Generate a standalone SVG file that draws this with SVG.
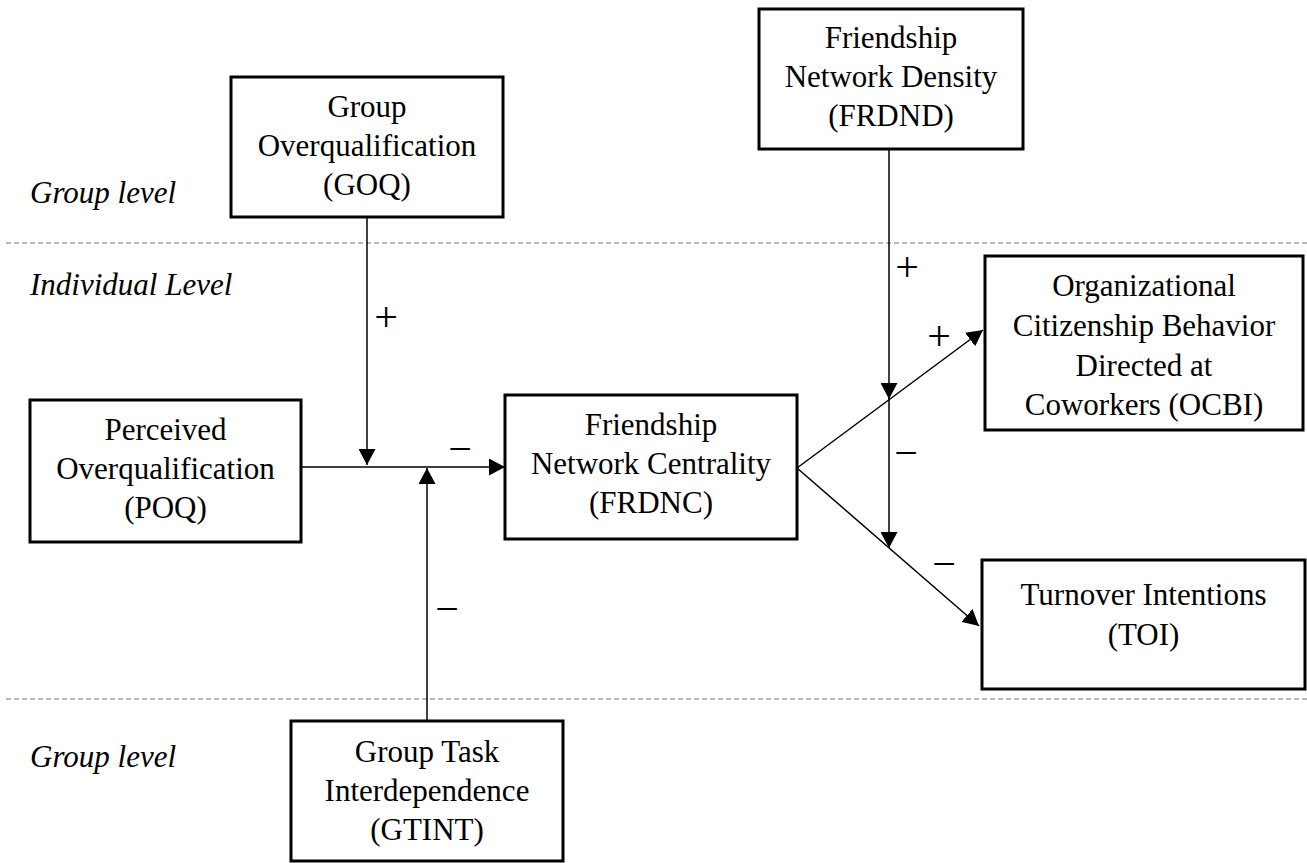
<svg xmlns="http://www.w3.org/2000/svg" width="1307" height="863" viewBox="0 0 1307 863">
<style>
.box{fill:#fff;stroke:#000;stroke-width:3}
.t{font-family:"Liberation Serif","Times New Roman",serif;font-size:31px;fill:#000;text-anchor:middle}
.lvl{font-family:"Liberation Serif","Times New Roman",serif;font-size:31px;font-style:italic;fill:#000}
.sign{font-family:"Liberation Serif","Times New Roman",serif;font-size:42px;fill:#000;text-anchor:middle}
.ln{stroke:#000;stroke-width:1.5;fill:none}
.dash{stroke:#a0a0a0;stroke-width:1.5;stroke-dasharray:5 3;fill:none}
</style>
<defs>
<marker id="arr" markerUnits="userSpaceOnUse" markerWidth="17" markerHeight="17" refX="16" refY="8.5" orient="auto">
<path d="M0,0 L16,8.5 L0,17 z" fill="#000"/>
</marker>
</defs>
<rect width="1307" height="863" fill="#fff"/>
<g id="levels">
<line class="dash" x1="6" y1="243" x2="1307" y2="243"/>
<line class="dash" x1="6" y1="699" x2="1307" y2="699"/>
<text class="lvl" x="30" y="203">Group level</text>
<text class="lvl" x="30" y="295">Individual Level</text>
<text class="lvl" x="30" y="767">Group level</text>
</g>
<g id="connectors">
<line class="ln" x1="301" y1="467" x2="505" y2="467" marker-end="url(#arr)"/>
<line class="ln" x1="367" y1="217" x2="367" y2="465" marker-end="url(#arr)"/>
<line class="ln" x1="427" y1="721" x2="427" y2="468" marker-end="url(#arr)"/>
<line class="ln" x1="797" y1="468" x2="983" y2="330" marker-end="url(#arr)"/>
<line class="ln" x1="797" y1="468" x2="979" y2="626" marker-end="url(#arr)"/>
<line class="ln" x1="889" y1="149" x2="889" y2="399" marker-end="url(#arr)"/>
<line class="ln" x1="889" y1="390" x2="889" y2="548" marker-end="url(#arr)"/>
<text class="sign" x="386" y="331">+</text>
<text class="sign" x="460" y="463">−</text>
<text class="sign" x="447" y="623">−</text>
<text class="sign" x="907" y="281">+</text>
<text class="sign" x="939" y="350">+</text>
<text class="sign" x="906" y="467">−</text>
<text class="sign" x="944" y="578">−</text>
</g>
<g id="GOQ">
<rect class="box" x="231" y="77" width="272" height="140"/>
<text class="t" x="367" y="117">Group</text>
<text class="t" x="367" y="156">Overqualification</text>
<text class="t" x="367" y="195">(GOQ)</text>
</g>
<g id="FRDND">
<rect class="box" x="759" y="9" width="264" height="140"/>
<text class="t" x="891" y="48">Friendship</text>
<text class="t" x="891" y="87">Network Density</text>
<text class="t" x="891" y="126">(FRDND)</text>
</g>
<g id="POQ">
<rect class="box" x="30" y="400" width="271" height="142"/>
<text class="t" x="165.5" y="440">Perceived</text>
<text class="t" x="165.5" y="479">Overqualification</text>
<text class="t" x="165.5" y="518">(POQ)</text>
</g>
<g id="FRDNC">
<rect class="box" x="505" y="395" width="292" height="144"/>
<text class="t" x="651" y="435">Friendship</text>
<text class="t" x="651" y="474">Network Centrality</text>
<text class="t" x="651" y="513">(FRDNC)</text>
</g>
<g id="OCBI">
<rect class="box" x="985" y="256" width="318" height="174"/>
<text class="t" x="1144" y="296">Organizational</text>
<text class="t" x="1144" y="336">Citizenship Behavior</text>
<text class="t" x="1144" y="376">Directed at</text>
<text class="t" x="1144" y="415">Coworkers (OCBI)</text>
</g>
<g id="TOI">
<rect class="box" x="982" y="560" width="323" height="129"/>
<text class="t" x="1143.5" y="605">Turnover Intentions</text>
<text class="t" x="1143.5" y="645">(TOI)</text>
</g>
<g id="GTINT">
<rect class="box" x="291" y="721" width="272" height="140"/>
<text class="t" x="427" y="762">Group Task</text>
<text class="t" x="427" y="801">Interdependence</text>
<text class="t" x="427" y="840">(GTINT)</text>
</g>
</svg>
